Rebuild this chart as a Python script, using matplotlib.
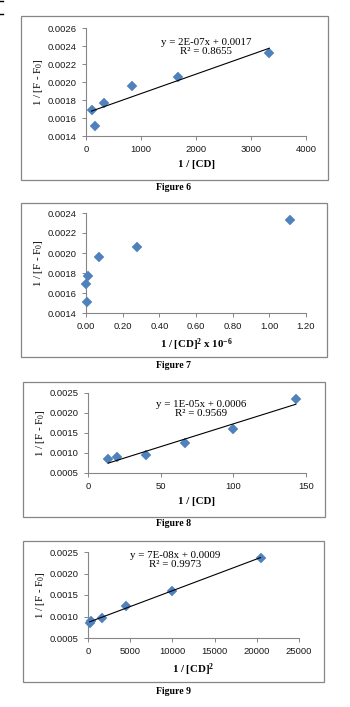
import numpy as np
import matplotlib
matplotlib.use('Agg')
import matplotlib.pyplot as plt
from matplotlib.patches import Rectangle
from matplotlib.ticker import FormatStrFormatter

plt.rcParams['mathtext.default'] = 'regular'

# Figure 6: 1/(F-F0) against 1/[CD]
x6 = [100, 167, 333, 833, 1667, 3333]
y6 = [0.00169, 0.001515, 0.00177, 0.00196, 0.00206, 0.002326]

# Figure 7: same response against 1/[CD]^2 (x 10^-6)
x7 = [0.001, 0.0029, 0.011, 0.069, 0.278, 1.111]
y7 = [0.00169, 0.001515, 0.00177, 0.00196, 0.00206, 0.002326]

# Figure 8: 1/(F-F0) against 1/[CD]
x8 = [14, 20, 40, 67, 100, 143]
y8 = [0.00084, 0.00090, 0.00096, 0.00125, 0.00160, 0.00236]

# Figure 9: same response against 1/[CD]^2
x9 = [196, 400, 1600, 4489, 10000, 20449]
y9 = [0.00084, 0.00090, 0.00096, 0.00125, 0.00160, 0.00236]

eq6 = 'y = 2E-07x + 0.0017\nR² = 0.8655'
eq8 = 'y = 1E-05x + 0.0006\nR² = 0.9569'
eq9 = 'y = 7E-08x + 0.0009\nR² = 0.9973'

W, H = 350, 707
fig = plt.figure(figsize=(W / 100, H / 100), dpi=100)
fig.patch.set_facecolor('white')

SERIF = 'Liberation Serif'
SANS = 'Liberation Sans'
GRAY = '#868686'
BLUE = '#4F81BD'


def frac(x0, y0, x1, y1):
    return [x0 / W, 1 - y1 / H, (x1 - x0) / W, (y1 - y0) / H]


def chart_box(x0, y0, x1, y1):
    r = Rectangle((x0 / W, 1 - y1 / H), (x1 - x0) / W, (y1 - y0) / H,
                  transform=fig.transFigure, fill=False, ec=GRAY, lw=0.9)
    fig.add_artist(r)


def panel(area, xs, ys, xlim, ylim, xticks, yticks, xfmt, xlabel,
          eq=None, eq_pos=None, trend=True):
    ax = fig.add_axes(frac(*area))
    ax.plot(xs, ys, 'D', color=BLUE, ms=4.7, mec=BLUE, mew=0.3, zorder=3,
            clip_on=False)
    if trend:
        m, b = np.polyfit(xs, ys, 1)
        xx = np.array([min(xs), max(xs)])
        ax.plot(xx, m * xx + b, color='black', lw=0.8, zorder=4)
    ax.set_xlim(*xlim)
    ax.set_ylim(*ylim)
    ax.set_xticks(xticks)
    ax.set_yticks(yticks)
    ax.xaxis.set_major_formatter(FormatStrFormatter(xfmt))
    ax.yaxis.set_major_formatter(FormatStrFormatter('%.4f'))
    for s in ['top', 'right']:
        ax.spines[s].set_visible(False)
    for s in ['left', 'bottom']:
        ax.spines[s].set_color(GRAY)
        ax.spines[s].set_linewidth(0.8)
    ax.tick_params(direction='out', length=3, width=0.7, color=GRAY,
                   labelsize=6.8, pad=3.5)
    for lab in ax.get_xticklabels() + ax.get_yticklabels():
        lab.set_fontfamily(SANS)
        lab.set_color('#1a1a1a')
    ax.set_xlabel(xlabel, fontfamily=SERIF, fontweight='bold', fontsize=7.8,
                  labelpad=4)
    ax.set_ylabel('1 / [F - F$_{0}$]', fontfamily=SERIF, fontsize=7.8,
                  labelpad=2)
    if eq:
        fig.text(eq_pos[0] / W, 1 - eq_pos[1] / H, eq, ha='center',
                 va='center', fontfamily=SERIF, fontsize=7.8,
                 linespacing=0.95)
    return ax


def caption(text, y):
    fig.text(174 / W, 1 - y / H, text, ha='center', va='center',
             fontfamily=SERIF, fontweight='bold', fontsize=7)


# Figure 6
chart_box(21, 16, 328, 180)
panel((86, 28, 306, 136), x6, y6, (0, 4000), (0.0014, 0.0026),
      [0, 1000, 2000, 3000, 4000], np.arange(0.0014, 0.00261, 0.0002),
      '%d', '1 / [CD]', eq6, (206, 47))
caption('Figure 6', 188)

# Figure 7
chart_box(21, 203, 327, 357)
panel((86, 213, 306, 313), x7, y7, (0, 1.2), (0.0014, 0.0024),
      np.arange(0, 1.21, 0.2), np.arange(0.0014, 0.00241, 0.0002),
      '%.2f', '1 / [CD]$^{2}$ x 10$^{-6}$', trend=False)
caption('Figure 7', 366)

# Figure 8
chart_box(23, 382, 325, 517)
panel((88, 393, 306, 473), x8, y8, (0, 150), (0.0005, 0.0025),
      [0, 50, 100, 150], np.arange(0.0005, 0.00251, 0.0005),
      '%d', '1 / [CD]', eq8, (201, 409))
caption('Figure 8', 524)

# Figure 9
chart_box(23, 541, 324, 682)
panel((88, 552, 299, 638), x9, y9, (0, 25000), (0.0005, 0.0025),
      np.arange(0, 25001, 5000), np.arange(0.0005, 0.00251, 0.0005),
      '%d', '1 / [CD]$^{2}$', eq9, (175, 560))
caption('Figure 9', 691)

# small marks at the top-left edge of the page
for yy in (1, 14):
    fig.add_artist(plt.Line2D([0, 3 / W], [1 - yy / H, 1 - yy / H],
                              transform=fig.transFigure, color='black',
                              lw=1.0))

fig.savefig('out.png', dpi=100, facecolor='white')
